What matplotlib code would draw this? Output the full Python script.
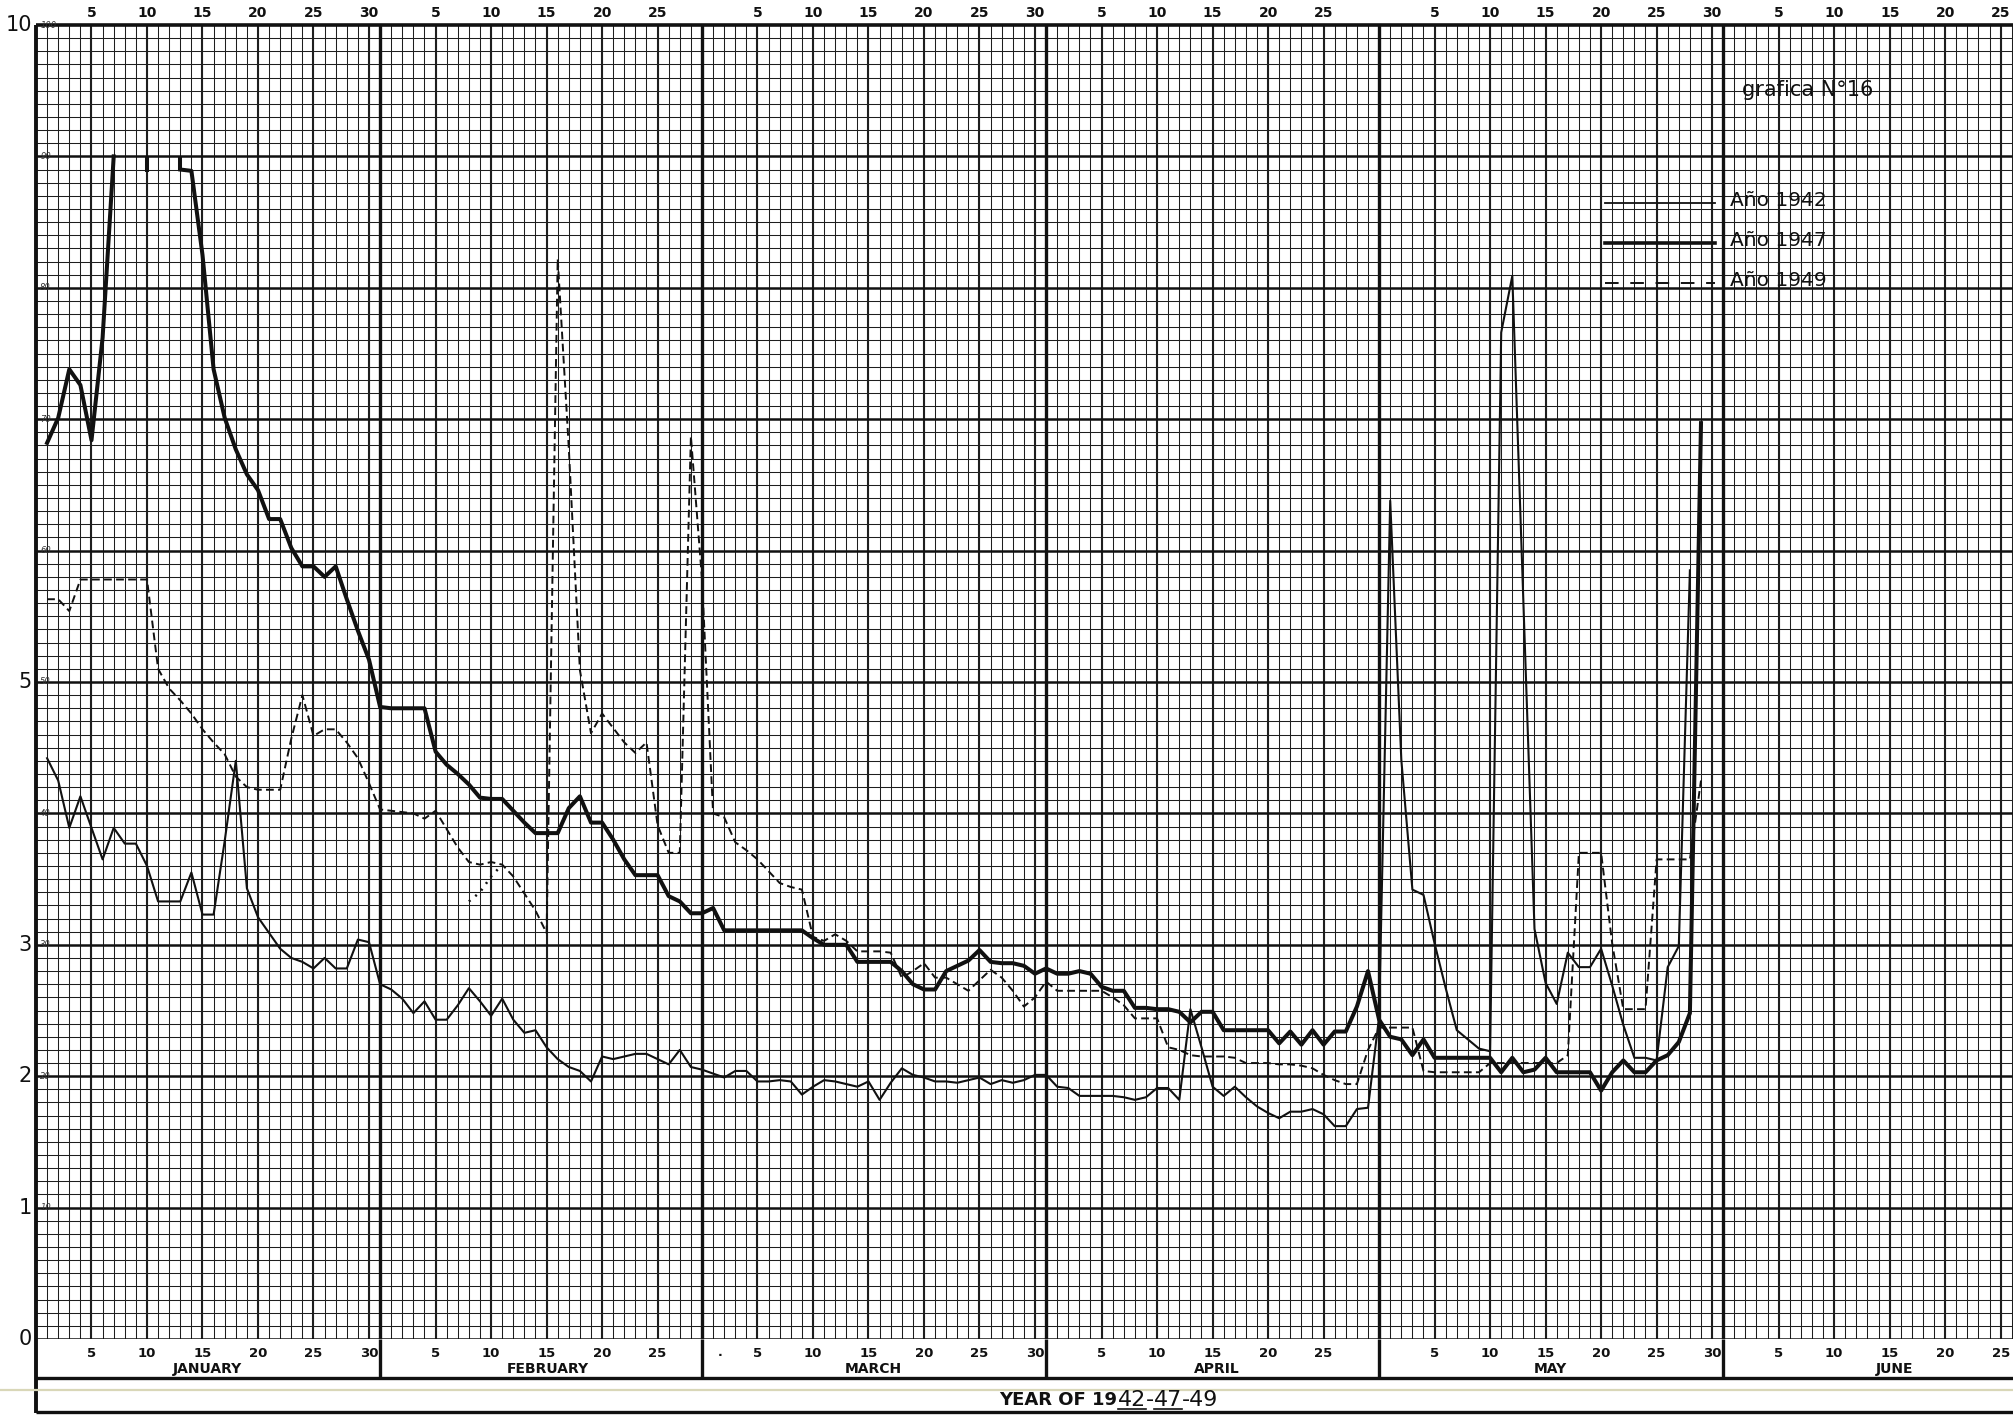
import numpy as np
import matplotlib
matplotlib.use("Agg")
import matplotlib.pyplot as plt

plt.rcParams['font.family'] = ['DejaVu Sans']

# ---------------------------------------------------------------- calendar
MONTHS = ["JANUARY", "FEBRUARY", "MARCH", "APRIL", "MAY", "JUNE"]
MONTH_DAYS = [31, 29, 31, 30, 31, 30]          # columns printed on the paper
DAY_TICKS = [[5, 10, 15, 20, 25, 30], [5, 10, 15, 20, 25],
             [5, 10, 15, 20, 25, 30], [5, 10, 15, 20, 25],
             [5, 10, 15, 20, 25, 30], [5, 10, 15, 20, 25]]
Y_MAIN_LABELS = [0, 1, 2, 3, 5, 10]
Y_SCALE_LABELS = [10, 20, 30, 40, 50, 60, 70, 80, 90, 100]

# ---------------------------------------------------------------- daily readings
# Año 1942 (thin line)
q1942_jan = [4.42, 4.25, 3.89, 4.13, 3.89, 3.65, 3.89, 3.77, 3.77, 3.60, 3.33, 3.33,
             3.33, 3.55, 3.23, 3.23, 3.79, 4.40, 3.43, 3.21, 3.09, 2.97, 2.90, 2.87,
             2.82, 2.90, 2.82, 2.82, 3.04, 3.02, 2.70]
q1942_feb = [2.66, 2.59, 2.48, 2.57, 2.43, 2.43, 2.54, 2.67, 2.57, 2.46, 2.59, 2.43,
             2.33, 2.35, 2.22, 2.13, 2.07, 2.04, 1.96, 2.15, 2.13, 2.15, 2.17, 2.17,
             2.13, 2.09, 2.20, 2.07, 2.05]
q1942_mar = [2.02, 1.99, 2.04, 2.04, 1.96, 1.96, 1.97, 1.96, 1.86, 1.92, 1.97, 1.96,
             1.94, 1.92, 1.96, 1.82, 1.95, 2.06, 2.01, 1.99, 1.96, 1.96, 1.95, 1.97,
             1.99, 1.94, 1.97, 1.95, 1.97, 2.01, 2.01]
q1942_apr = [1.92, 1.91, 1.85, 1.85, 1.85, 1.85, 1.84, 1.82, 1.84, 1.91, 1.91, 1.82,
             2.51, 2.22, 1.92, 1.85, 1.92, 1.84, 1.77, 1.72, 1.68, 1.73, 1.73, 1.75,
             1.71, 1.62, 1.62, 1.75, 1.76, 2.45]
q1942_may = [6.38, 4.41, 3.42, 3.38, 3.01, 2.67, 2.35, 2.28, 2.21, 2.19, 7.66, 8.09,
             5.60, 3.12, 2.71, 2.55, 2.94, 2.83, 2.83, 2.97, 2.69, 2.39, 2.14, 2.14,
             2.12, 2.83, 2.99, 5.85]

# Año 1947 (heavy line); days off the top of the scale are left blank
NA = float("nan")
q1947_jan = [6.82, 7.01, 7.38, 7.26, 6.84, 7.62, 9.00, NA, NA, NA, NA, NA,
             8.90, 8.89, 8.25, 7.38, 7.01, 6.77, 6.58, 6.46, 6.24, 6.24, 6.02, 5.88,
             5.88, 5.80, 5.88, 5.63, 5.39, 5.17, 4.81]
q1947_feb = [4.80, 4.80, 4.80, 4.80, 4.47, 4.37, 4.30, 4.22, 4.12, 4.11, 4.11, 4.02,
             3.93, 3.85, 3.85, 3.85, 4.04, 4.13, 3.93, 3.93, 3.80, 3.65, 3.53, 3.53,
             3.53, 3.37, 3.33, 3.24, 3.24]
q1947_mar = [3.28, 3.11, 3.11, 3.11, 3.11, 3.11, 3.11, 3.11, 3.11, 3.05, 3.00, 3.00,
             3.00, 2.87, 2.87, 2.87, 2.87, 2.80, 2.70, 2.66, 2.66, 2.80, 2.84, 2.88,
             2.96, 2.87, 2.86, 2.86, 2.84, 2.78, 2.82]
q1947_apr = [2.78, 2.78, 2.80, 2.78, 2.68, 2.65, 2.65, 2.52, 2.52, 2.51, 2.51, 2.49,
             2.41, 2.49, 2.49, 2.35, 2.35, 2.35, 2.35, 2.35, 2.25, 2.34, 2.24, 2.35,
             2.24, 2.34, 2.34, 2.53, 2.80, 2.43]
q1947_may = [2.30, 2.28, 2.16, 2.28, 2.14, 2.14, 2.14, 2.14, 2.14, 2.14, 2.03, 2.14,
             2.03, 2.05, 2.14, 2.03, 2.03, 2.03, 2.03, 1.89, 2.03, 2.12, 2.03, 2.03,
             2.12, 2.16, 2.26, 2.48, 6.97]
# short drops from the 9 line where the January flood comes back on scale
q1947_jan_tick_days = [10, 13]
q1947_jan_tick_top = [9.00, 9.00]
q1947_jan_tick_low = [8.88, 8.90]

# Año 1949 (dashed line)
q1949_jan = [5.63, 5.63, 5.54, 5.78, 5.78, 5.78, 5.78, 5.78, 5.78, 5.78, 5.10, 4.95,
             4.86, 4.76, 4.64, 4.54, 4.45, 4.28, 4.20, 4.18, 4.18, 4.18, 4.57, 4.90,
             4.59, 4.64, 4.64, 4.54, 4.42, 4.23, 4.03]
q1949_feb = [4.02, 4.01, 4.00, 3.96, 4.02, 3.88, 3.74, 3.63, 3.61, 3.63, 3.61, 3.52,
             3.39, 3.26, 3.09, 8.22, 6.78, 5.09, 4.61, 4.76, 4.65, 4.54, 4.46, 4.54,
             3.91, 3.70, 3.70, 6.87, 5.78]
q1949_mar = [4.00, 3.97, 3.78, 3.72, 3.65, 3.56, 3.47, 3.44, 3.42, 3.06, 3.03, 3.08,
             3.03, 2.95, 2.95, 2.95, 2.94, 2.75, 2.80, 2.86, 2.75, 2.75, 2.70, 2.65,
             2.73, 2.81, 2.75, 2.65, 2.53, 2.60, 2.72]
q1949_apr = [2.65, 2.65, 2.65, 2.65, 2.65, 2.60, 2.54, 2.44, 2.44, 2.44, 2.22, 2.20,
             2.16, 2.15, 2.15, 2.15, 2.14, 2.10, 2.10, 2.10, 2.09, 2.09, 2.08, 2.06,
             2.01, 1.97, 1.94, 1.94, 2.20, 2.37]
q1949_may = [2.37, 2.37, 2.37, 2.04, 2.03, 2.03, 2.03, 2.03, 2.03, 2.10, 2.10, 2.10,
             2.10, 2.10, 2.10, 2.10, 2.16, 3.70, 3.70, 3.70, 3.01, 2.51, 2.51, 2.51,
             3.65, 3.65, 3.65, 3.65, 4.25]
# short dotted alternative trace, February 1949
q1949_feb_alt_days = [8, 9, 10, 11]
q1949_feb_alt = [3.33, 3.40, 3.52, 3.61]

# ---------------------------------------------------------------- layout (pixels)
W, H = 2013, 1420
LEFT, RIGHT, TOP, BOTTOM = 36, 2013, 25, 1339
BAND_BOTTOM, FOOT_BOTTOM = 1378, 1413
DAY_PX = 11.1
XMAX = (RIGHT - LEFT) / DAY_PX
INK = "#111111"
GRID = "#1e1e1e"

month_start = np.concatenate(([0], np.cumsum(MONTH_DAYS)[:-1]))


def daily(*months):
    xs, ys = [], []
    for m, vals in enumerate(months):
        xs.extend(month_start[m] + np.arange(1, len(vals) + 1))
        ys.extend(vals)
    return np.array(xs, float), np.array(ys, float)


fig = plt.figure(figsize=(W / 100, H / 100), dpi=100)
fig.patch.set_facecolor("white")

ax = fig.add_axes([LEFT / W, 1 - BOTTOM / H, (RIGHT - LEFT) / W, (BOTTOM - TOP) / H])
ax.set_xlim(0, XMAX)
ax.set_ylim(0, 10)
ax.axis("off")

# ---- graph paper
ax.vlines(np.arange(0, int(XMAX) + 1), 0, 10, color=GRID, lw=0.75, zorder=1)
five_day = [month_start[m] + d for m in range(len(MONTHS))
            for d in range(5, MONTH_DAYS[m], 5)]
ax.vlines(five_day, 0, 10, color=GRID, lw=1.5, zorder=1)
ax.vlines(month_start[1:], 0, 10, color=INK, lw=2.4, zorder=2)
minor_y = [v / 10 for v in range(1, 100) if v % 10]
ax.hlines(minor_y, 0, XMAX, color=GRID, lw=0.75, zorder=1)
ax.hlines(np.arange(0, 10), 0, XMAX, color=INK, lw=1.8, zorder=2)
ax.hlines(10, 0, XMAX, color=INK, lw=2.6, zorder=2, clip_on=False)
ax.vlines(0, 0, 10, color=INK, lw=2.8, zorder=2, clip_on=False)

# ---- hydrographs
x42, y42 = daily(q1942_jan, q1942_feb, q1942_mar, q1942_apr, q1942_may)
x47, y47 = daily(q1947_jan, q1947_feb, q1947_mar, q1947_apr, q1947_may)
x49, y49 = daily(q1949_jan, q1949_feb, q1949_mar, q1949_apr, q1949_may)
ax.plot(x42, y42, color=INK, lw=1.5, zorder=5)
ax.plot(x47, y47, color=INK, lw=2.9, zorder=6)
ax.vlines(month_start[0] + np.array(q1947_jan_tick_days), q1947_jan_tick_low,
          q1947_jan_tick_top, color=INK, lw=2.9, zorder=6)
ax.plot(x49, y49, color=INK, lw=1.4, ls=(0, (4, 2.2)), zorder=5)
ax.plot(month_start[1] + np.array(q1949_feb_alt_days), q1949_feb_alt,
        color=INK, lw=1.8, ls=(0, (0.8, 2.5)), zorder=5)

# ---- vertical scale labels
for v in Y_MAIN_LABELS:
    ax.annotate(str(v), xy=(0, v), xycoords=("axes fraction", "data"),
                xytext=(-3, 0), textcoords="offset points",
                ha="right", va="center", fontsize=15, color=INK)
for v in Y_SCALE_LABELS:
    ax.annotate(str(v), xy=(0, v / 10), xycoords=("axes fraction", "data"),
                xytext=(3, 0), textcoords="offset points",
                ha="left", va="center", fontsize=6, style="italic", color="#333333",
                zorder=7)

# ---- day numbers along the top
for m, ticks in enumerate(DAY_TICKS):
    for d in ticks:
        ax.annotate(str(d), xy=(month_start[m] + d, 1), xycoords=("data", "axes fraction"),
                    xytext=(0, 8.5), textcoords="offset points",
                    ha="center", va="center", fontsize=10, fontweight="bold", color=INK,
                    annotation_clip=False)

# ---- month band under the chart (x in days, y in pixels)
band = fig.add_axes([LEFT / W, 1 - FOOT_BOTTOM / H, (RIGHT - LEFT) / W,
                     (FOOT_BOTTOM - BOTTOM) / H])
band.set_xlim(0, XMAX)
band.set_ylim(FOOT_BOTTOM, BOTTOM)
band.axis("off")
band.vlines(month_start[1:], BOTTOM, BAND_BOTTOM, color=INK, lw=2.4)
band.vlines(0, BOTTOM, FOOT_BOTTOM, color=INK, lw=2.8, clip_on=False)
band.hlines(BAND_BOTTOM, 0, XMAX, color=INK, lw=2.4)
band.hlines(1390, -5, XMAX, color="#d9d7b8", lw=1.6, clip_on=False)
band.hlines(FOOT_BOTTOM - 1, 0, XMAX, color=INK, lw=2.4, clip_on=False)
for m, ticks in enumerate(DAY_TICKS):
    for d in ticks:
        band.text(month_start[m] + d, 1354, str(d), ha="center", va="center",
                  fontsize=9.5, fontweight="bold", color=INK)
    band.text(month_start[m] + min(15.4, MONTH_DAYS[m] / 2 + 0.6), 1369, MONTHS[m],
              ha="center", va="center", fontsize=10, fontweight="bold", color=INK)
band.text(month_start[2] + 1.6, 1353, ".", ha="center", va="center",
          fontsize=9, fontweight="bold", color=INK)

# ---- overlay in pixel coordinates: title, key, footer caption
ov = fig.add_axes([0, 0, 1, 1], zorder=10)
ov.set_xlim(0, W)
ov.set_ylim(H, 0)
ov.axis("off")
ov.patch.set_alpha(0)

ov.text(1742, 90, "grafica N°16", ha="left", va="center", fontsize=15, color=INK)
key = [("Año 1942", dict(lw=1.3, ls="-")),
       ("Año 1947", dict(lw=2.6, ls="-")),
       ("Año 1949", dict(lw=1.4, ls=(0, (7, 6))))]
for i, (label, style) in enumerate(key):
    y = 203 + i * 40
    ov.plot([1605, 1715], [y, y], color=INK, **style)
    ov.text(1730, y - 3, label, ha="left", va="center", fontsize=14.5, color=INK)

renderer = fig.canvas.get_renderer()
pieces = [("YEAR OF 19", False, 13, "bold"), ("42", True, 16, "normal"),
          ("-", False, 16, "normal"), ("47", True, 16, "normal"),
          ("-49", False, 16, "normal")]
texts, widths = [], []
for s, _, size, weight in pieces:
    t = ov.text(0, 1400, s, ha="left", va="center", fontsize=size,
                fontweight=weight, color=INK)
    widths.append(t.get_window_extent(renderer=renderer).width)
    texts.append(t)
xpos = 1109 - sum(widths) / 2
for (s, underline, _, _), t, w in zip(pieces, texts, widths):
    t.set_x(xpos)
    if underline:
        ov.plot([xpos, xpos + w], [1409, 1409], color=INK, lw=1.2)
    xpos += w

fig.savefig("out.png", dpi=100, facecolor="white")
